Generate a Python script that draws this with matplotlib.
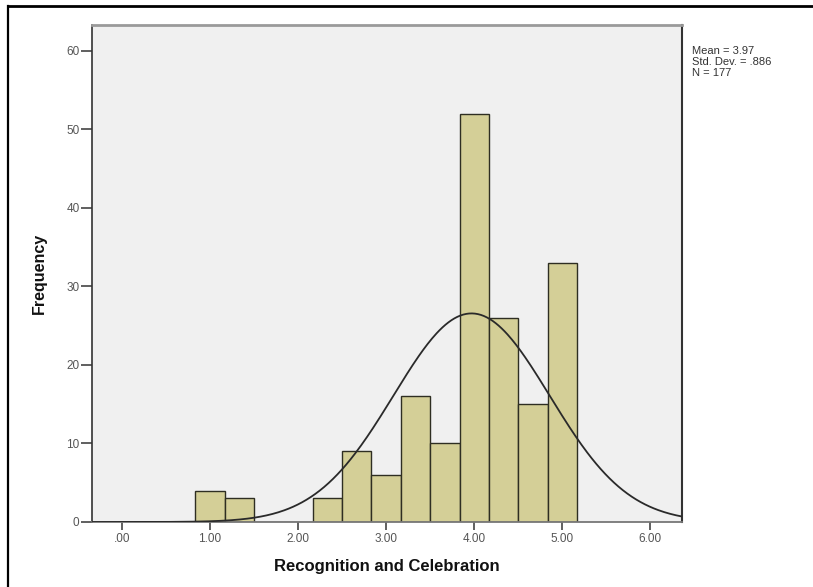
import numpy as np
import matplotlib.pyplot as plt
from matplotlib.lines import Line2D

plt.rcParams['font.family'] = ['Liberation Sans', 'DejaVu Sans']

# histogram of "Recognition and Celebration" (bin width 1/3)
bin_centers = [1.0, 4/3, 5/3, 2.0, 7/3, 8/3, 3.0, 10/3, 11/3, 4.0, 13/3, 14/3, 5.0]
counts = [4, 3, 0, 0, 3, 9, 6, 16, 10, 52, 26, 15, 33]
bin_width = 1/3
mean, sd, n = 3.97, 0.886, 177
x_ticks = [0, 1, 2, 3, 4, 5, 6]
x_ticklabels = ['.00', '1.00', '2.00', '3.00', '4.00', '5.00', '6.00']
y_ticks = [0, 10, 20, 30, 40, 50, 60]

W, H = 813, 587
fig = plt.figure(figsize=(W / 100, H / 100), dpi=100)
fig.patch.set_facecolor('white')

# plot area in pixels: left 92, right 682, top 25, bottom 522
ax = fig.add_axes([92 / W, 1 - 522 / H, (682 - 92) / W, (522 - 25) / H])
ax.set_facecolor('#f0f0f0')

ax.bar(bin_centers, counts, width=bin_width, color='#d4cf97',
       edgecolor='#2e2e22', linewidth=1.0, zorder=2)

xs = np.linspace(-0.34, 6.36, 400)
curve = n * bin_width * np.exp(-0.5 * ((xs - mean) / sd) ** 2) / (sd * np.sqrt(2 * np.pi))
ax.plot(xs, curve, color='#2a2a2a', linewidth=1.3, zorder=3)

ax.set_xlim(-0.34, 6.36)
ax.set_ylim(0, 63.3)
ax.set_xticks(x_ticks)
ax.set_xticklabels(x_ticklabels)
ax.set_yticks(y_ticks)
ax.tick_params(axis='x', length=6, width=1.2, color='#444444', pad=2,
               labelsize=8.5, labelcolor='#555555')
ax.tick_params(axis='y', length=8, width=1.2, color='#444444', pad=1,
               labelsize=8.5, labelcolor='#555555')

ax.spines['left'].set_color('#333333')
ax.spines['left'].set_linewidth(1.2)
ax.spines['right'].set_color('#333333')
ax.spines['right'].set_linewidth(1.5)
ax.spines['top'].set_color('#9a9a9a')
ax.spines['top'].set_linewidth(2.0)
ax.spines['bottom'].set_color('#777777')
ax.spines['bottom'].set_linewidth(1.3)

ax.set_xlabel('Recognition and Celebration', fontsize=12, fontweight='bold',
              color='#111111', labelpad=10)
ax.set_ylabel('Frequency', fontsize=11.5, fontweight='bold',
              color='#111111', labelpad=14)

fig.text(692 / W, 1 - 46 / H,
         'Mean = %.2f\nStd. Dev. = .%d\nN = %d' % (mean, round(sd * 1000), n),
         fontsize=8, color='#333333', va='top', ha='left', linespacing=1.15)

# outer frame
fig.add_artist(Line2D([8 / W, 8 / W], [0, 1 - 6 / H], color='black', linewidth=1.6))
fig.add_artist(Line2D([8 / W, 1], [1 - 6 / H, 1 - 6 / H], color='black', linewidth=2.0))

fig.savefig('out.png', dpi=100)
